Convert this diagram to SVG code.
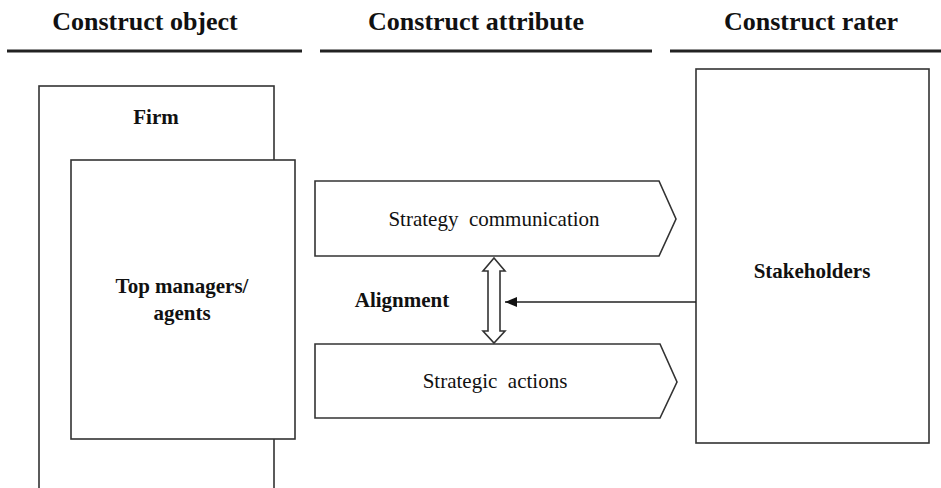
<svg xmlns="http://www.w3.org/2000/svg" width="941" height="488" viewBox="0 0 941 488">
<style>
.box{fill:#fff;stroke:#333;stroke-width:1.6}
.hdr{font-family:"Liberation Serif","Times New Roman",serif;font-weight:bold;font-size:26px;fill:#111;text-anchor:middle}
.b{font-family:"Liberation Serif","Times New Roman",serif;font-weight:bold;font-size:21px;fill:#111;text-anchor:middle}
.r{font-family:"Liberation Serif","Times New Roman",serif;font-size:21px;fill:#111;text-anchor:middle;white-space:pre}
.rule{stroke:#222;stroke-width:3}
</style>
<defs>
<marker id="ah" viewBox="0 0 12 10" refX="12" refY="5" markerWidth="12" markerHeight="10" markerUnits="userSpaceOnUse" orient="auto">
<path d="M0,0 L12,5 L0,10 z" fill="#111"/>
</marker>
</defs>
<rect width="941" height="488" fill="#fff"/>
<g id="headers">
<text class="hdr" x="145" y="30">Construct object</text>
<text class="hdr" x="476" y="30">Construct attribute</text>
<text class="hdr" x="811" y="30">Construct rater</text>
<line class="rule" x1="7" y1="51" x2="302" y2="51"/>
<line class="rule" x1="320" y1="51" x2="652" y2="51"/>
<line class="rule" x1="670" y1="51" x2="941" y2="51"/>
</g>
<g id="firm">
<rect class="box" x="39" y="86" width="235" height="420"/>
<text class="b" x="156" y="124">Firm</text>
</g>
<g id="top-managers">
<rect class="box" x="71" y="160" width="224" height="279"/>
<text class="b" x="182" y="293">Top managers/</text>
<text class="b" x="182" y="320">agents</text>
</g>
<g id="strategy-communication">
<polygon class="box" points="315,181 659,181 676,219 659,256 315,256"/>
<text class="r" x="494" y="226">Strategy  communication</text>
</g>
<g id="strategic-actions">
<polygon class="box" points="315,344 660,344 677,382 660,418 315,418"/>
<text class="r" x="495" y="388">Strategic  actions</text>
</g>
<g id="stakeholders">
<rect class="box" x="696" y="69" width="233" height="374"/>
<text class="b" x="812" y="278">Stakeholders</text>
</g>
<g id="alignment">
<text class="b" x="402" y="307">Alignment</text>
</g>
<g id="connectors">
<polygon class="box" points="494,258 505,271 500,271 500,331 505,331 494,343 483,331 488,331 488,271 483,271"/>
<line x1="696" y1="302" x2="505" y2="302" stroke="#222" stroke-width="1.6" marker-end="url(#ah)"/>
</g>
</svg>
